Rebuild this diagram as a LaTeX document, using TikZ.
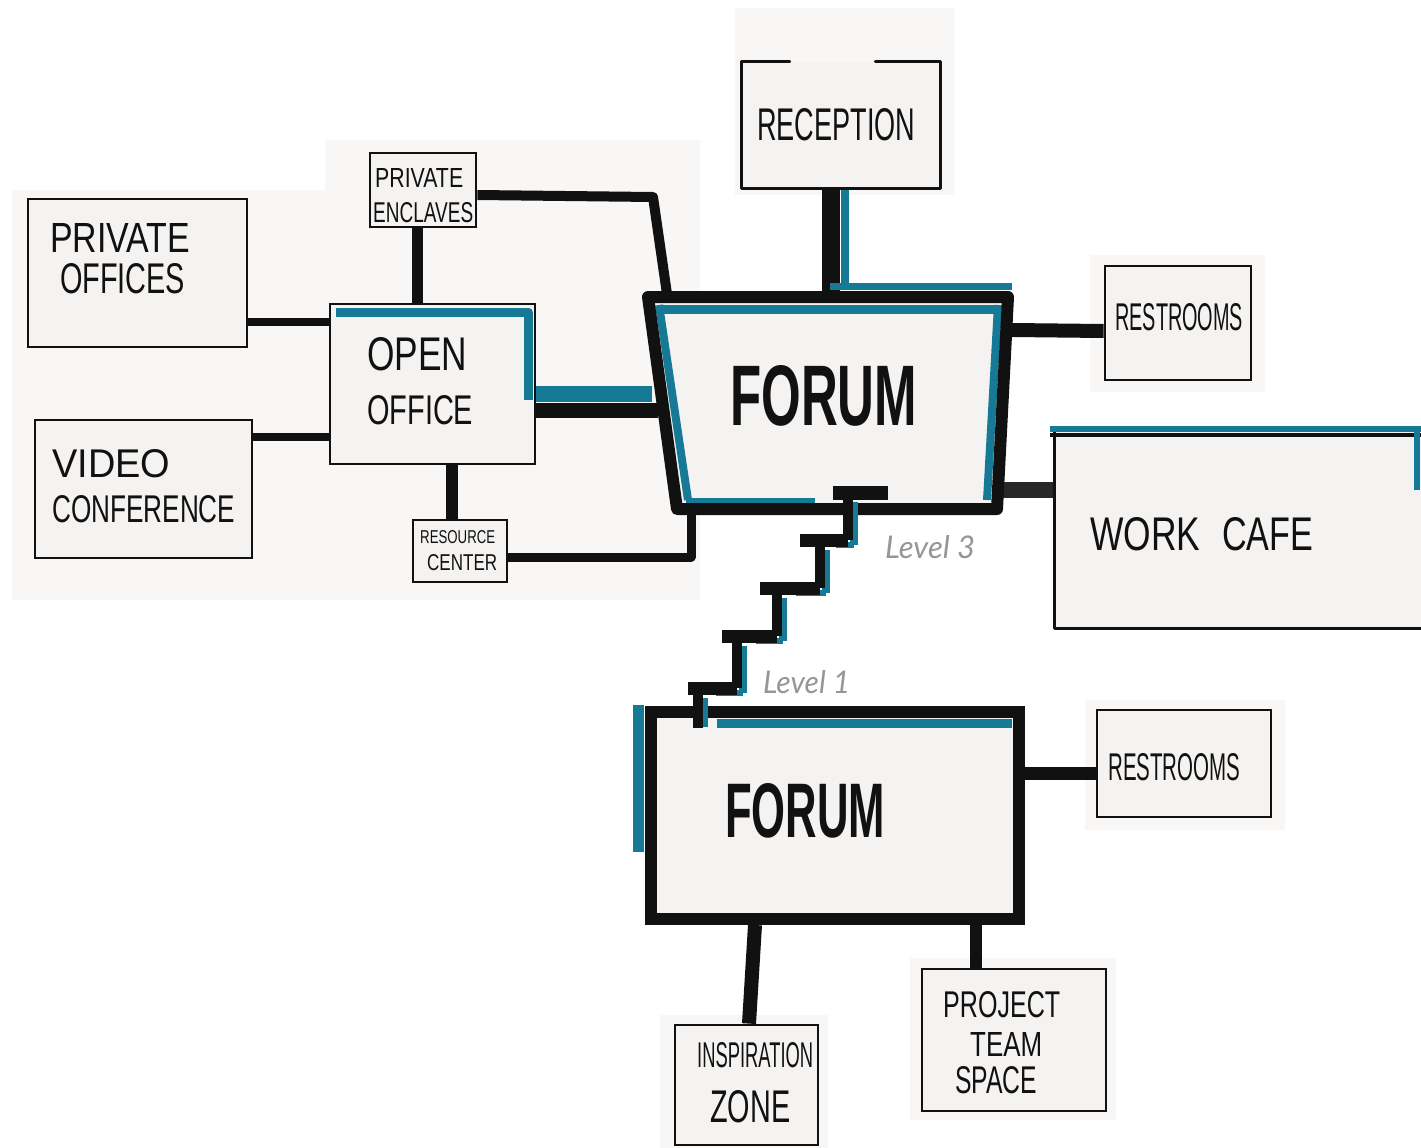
\documentclass[tikz,border=0pt]{standalone}
\usepackage{fontspec}
\setmainfont{Liberation Sans}
\newfontfamily\levfont{Lato}
\usepackage{graphicx}
\usetikzlibrary{fit}
\definecolor{tealink}{RGB}{22,122,150}
\definecolor{paper}{RGB}{245,243,241}
\definecolor{ink}{RGB}{17,17,17}
\definecolor{levgray}{RGB}{150,150,150}
\definecolor{darkbar}{RGB}{40,40,40}
\newcommand{\hw}[3]{\resizebox{#1pt}{#2pt}{#3}}
\begin{document}
\begin{tikzpicture}[x=1pt,y=-1pt,
  box/.style={draw=ink, line width=2.8pt, fill=paper, inner sep=0pt},
  openbox/.style={draw=none, fill=paper, inner sep=0pt},
  boxline/.style={draw=ink, line width=2.8pt, line cap=round, line join=round},
  txt/.style={inner sep=0pt, anchor=base west, text=ink},
  conn/.style={draw=ink, line width=#1, line join=round},
  conn/.default=12pt,
  tealline/.style={draw=tealink, line width=#1, line join=round},
  tealline/.default=8pt,
  patch/.style={fill=paper!70!white, draw=none},
  lev/.style={inner sep=0pt, anchor=base west, text=levgray}
]
\useasboundingbox[fill=white] (0,0) rectangle (1421,1148);

% paper patches
\path[patch] (12,190) rectangle (340,600);
\path[patch] (325,140) rectangle (700,600);
\path[patch] (735,8) rectangle (955,195);
\path[patch] (1090,255) rectangle (1265,392);
\path[patch] (1085,700) rectangle (1285,830);
\path[patch] (660,1015) rectangle (828,1148);
\path[patch] (910,958) rectangle (1116,1120);

% ---------- boxes (fills) ----------
\node[box, fit={(28,199) (247,347)}] (po) {};
\node[box, fit={(35,420) (252,558)}] (vc) {};
\node[box, fit={(370,153) (476,227)}] (pe) {};
\node[box, fit={(413,520) (507,582)}] (rc) {};
\node[openbox, fit={(742,62) (940,188)}] (rec) {};
\node[box, fit={(1105,266) (1251,380)}] (rr3) {};
\node[openbox, fit={(1055,432) (1430,628)}] (cafe) {};
\node[box, fit={(1097,710) (1271,817)}] (rr1) {};
\node[box, fit={(675,1025) (818,1145)}] (iz) {};
\node[box, fit={(922,969) (1106,1111)}] (pts) {};

% ---------- connectors ----------
\coordinate (c-po) at (247,322);
\coordinate (c-vc) at (252,437);
\draw[conn=8pt] (c-po) -- (c-po -| 332,0);
\draw[conn=8pt] (c-vc) -- (c-vc -| 332,0);
\draw[conn=11pt] (pe.south -| 417,0) -- (417,303);
\draw[conn=10pt] (pe.east |- 0,195) -- (653,197) -- (667,294);
\draw[tealline=16pt] (535,394) -- (652,394);
\draw[conn=15pt] (535,410) -- (658,410);
\draw[conn=12pt] (452,465) -- (rc.north -| 452,0);
\draw[conn=9pt] (rc.east |- 0,557) -- (691,557) -- (691,510);
\draw[tealline=8pt] (845,190) -- (845,290);
\draw[conn=18pt] (rec.south -| 831,0) -- (831,292);
\draw[conn=14pt] (1012,330) -- (rr3.west |- 0,331);
\draw[draw=darkbar, line width=16pt] (995,490) -- (cafe.west |- 0,490);
\draw[conn=13pt] (1022,773) -- (rr1.west |- 0,773);
\draw[conn=14pt] (755,925) -- (iz.north -| 749,0);
\draw[conn=12pt] (976,925) -- (pts.north -| 976,0);

% ---------- open office ----------
\node[box, fit={(330,304) (535,464)}] (oo) {};
\draw[tealline=9pt] (336,312) -- (528,312) -- (528,400);

% ---------- reception border with door gap ----------
\draw[boxline] ([xshift=48pt]rec.north west) -- (rec.north west) -- (rec.south west)
  -- (rec.south east) -- (rec.north east) -- ([xshift=-65pt]rec.north east);

% ---------- work cafe ----------
\draw[boxline] (cafe.north west) -- (cafe.south west) -- (cafe.south east);
\draw[draw=ink, line width=4pt] (1050,435) -- (1430,435);
\draw[tealline=6pt] (1050,429) -- (1430,429);
\draw[tealline=6pt] (1417,429) -- (1417,490);

% ---------- forum level 3 ----------
\coordinate (f3tl) at (648,297);
\coordinate (f3tr) at (1008,297);
\coordinate (f3br) at (997,509);
\coordinate (f3bl) at (677,509);
\draw[tealline=7pt] (830,286) -- (1012,286);
\fill[paper] (f3tl) -- (f3tr) -- (f3br) -- (f3bl) -- cycle;
\draw[tealline=9pt] (660,309) -- (998,309);
\draw[tealline=8pt] (998,305) -- (987,500);
\draw[tealline=8pt] (659,305) -- (688,500);
\draw[tealline=8pt] (686,502) -- (815,502);
\draw[conn=12pt, line cap=round] (f3tl) -- (f3tr) -- (f3br) -- (f3bl) -- cycle;

% ---------- forum level 1 ----------
\draw[tealline=11pt] (638,705) -- (638,852);
\node[draw=ink, line width=12pt, fill=paper, inner sep=0pt, fit={(651,712) (1019,919)}] (f1) {};
\draw[tealline=9pt] (717,723) -- (1012,723);

% ---------- stairs ----------
\begin{scope}[shift={(6,5)}]
  \draw[tealline=8pt] (848,497) -- (848,540) (820,545) -- (820,588) (777,593) -- (777,636) (737,641) -- (737,688) (698,693) -- (698,722);
  \draw[tealline=6pt] (830,540) -- (848,540) (790,588) -- (820,588) (750,636) -- (777,636) (710,688) -- (737,688);
\end{scope}
\draw[conn=14pt] (833,493) -- (888,493);
\draw[conn=10pt] (848,493) -- (848,540);
\draw[conn=13pt] (800,540) -- (848,540);
\draw[conn=10pt] (820,540) -- (820,588);
\draw[conn=13pt] (760,588) -- (820,588);
\draw[conn=10pt] (777,588) -- (777,636);
\draw[conn=13pt] (722,636) -- (777,636);
\draw[conn=10pt] (737,636) -- (737,688);
\draw[conn=13pt] (688,688) -- (737,688);
\draw[conn=10pt] (698,688) -- (698,728);

% ---------- texts ----------
\node[txt] (t-rec) at (757,140) {\hw{158}{32}{RECEPTION}};
\node[txt] (t-po1) at (50,252) {\hw{140}{29}{PRIVATE}};
\node[txt] (t-po2) at (60,293) {\hw{125}{30}{OFFICES}};
\node[txt] (t-vc1) at (52,477) {\hw{118}{28}{VIDEO}};
\node[txt] (t-vc2) at (52,522) {\hw{183}{27}{CONFERENCE}};
\node[txt] (t-oo1) at (367,370) {\hw{100}{33}{OPEN}};
\node[txt] (t-oo2) at (367,424) {\hw{106}{29}{OFFICE}};
\node[txt] (t-pe1) at (375,187) {\hw{88}{19}{PRIVATE}};
\node[txt] (t-pe2) at (373,222) {\hw{100}{20}{ENCLAVES}};
\node[txt] (t-rc1) at (420,543) {\hw{75}{13}{RESOURCE}};
\node[txt] (t-rc2) at (427,570) {\hw{70}{16}{CENTER}};
\node[txt] (t-f3) at (730,425) {\hw{187}{60}{\bfseries FORUM}};
\node[txt] (t-rr3) at (1115,330) {\hw{128}{27}{RESTROOMS}};
\node[txt] (t-wc1) at (1090,550) {\hw{110}{33}{WORK}};
\node[txt] (t-wc2) at (1222,550) {\hw{91}{33}{CAFE}};
\node[lev] (t-l3) at (885,558) {\hw{90}{23}{\levfont\itshape Level 3}};
\node[lev] (t-l1) at (763,693) {\hw{87}{23}{\levfont\itshape Level 1}};
\node[txt] (t-f1) at (725,837) {\hw{160}{54}{\bfseries FORUM}};
\node[txt] (t-rr1) at (1108,780) {\hw{132}{27}{RESTROOMS}};
\node[txt] (t-iz1) at (697,1067) {\hw{116}{25}{INSPIRATION}};
\node[txt] (t-iz2) at (710,1122) {\hw{80}{32}{ZONE}};
\node[txt] (t-pt1) at (943,1017) {\hw{117}{26}{PROJECT}};
\node[txt] (t-pt2) at (970,1056) {\hw{72}{24}{TEAM}};
\node[txt] (t-pt3) at (955,1093) {\hw{82}{27}{SPACE}};
\end{tikzpicture}
\end{document}
